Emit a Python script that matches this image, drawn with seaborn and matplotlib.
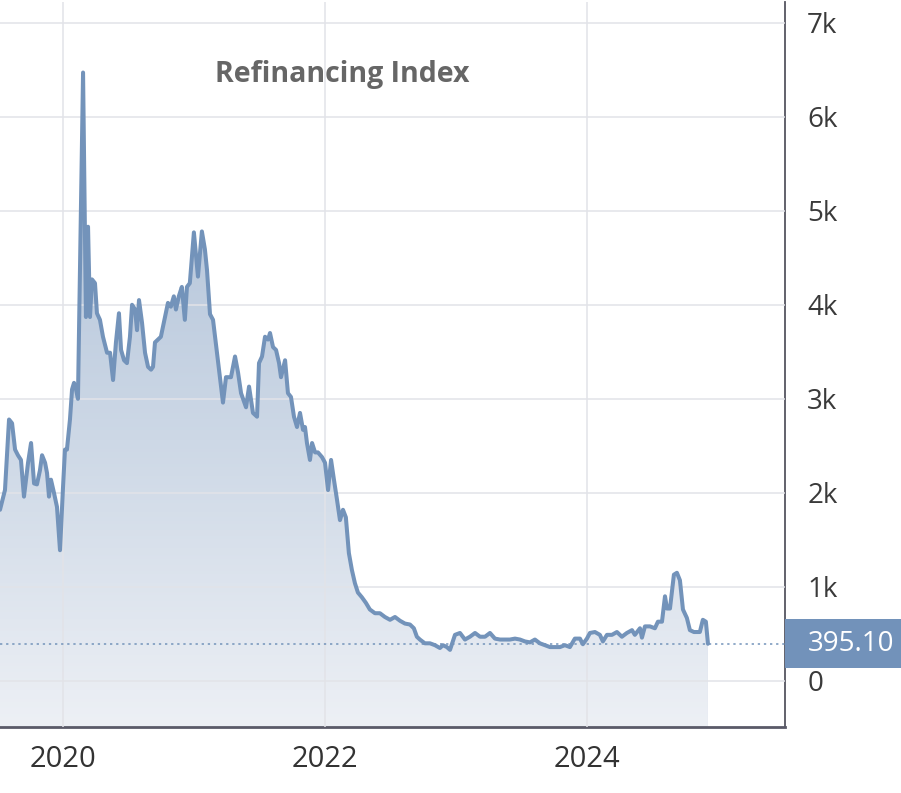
import numpy as np
import pandas as pd
import matplotlib
matplotlib.use("Agg")
import matplotlib.pyplot as plt
import seaborn as sns
from matplotlib.colors import LinearSegmentedColormap
from matplotlib.patches import Rectangle
from matplotlib.transforms import blended_transform_factory

# ---------------- data ----------------
title = "Refinancing Index"
last_value_label = "395.10"
last_value = 395.1

dates = [
    2019.520, 2019.558, 2019.589, 2019.612, 2019.635, 2019.657, 2019.680, 2019.703,
    2019.734, 2019.757, 2019.780, 2019.802, 2019.825, 2019.841, 2019.864, 2019.879,
    2019.894, 2019.909, 2019.932, 2019.955, 2019.978, 2020.001, 2020.016, 2020.031,
    2020.054, 2020.070, 2020.085, 2020.100, 2020.115, 2020.154, 2020.176, 2020.192,
    2020.207, 2020.222, 2020.245, 2020.260, 2020.283, 2020.306, 2020.337, 2020.360,
    2020.383, 2020.405, 2020.428, 2020.444, 2020.467, 2020.489, 2020.512, 2020.528,
    2020.551, 2020.566, 2020.581, 2020.604, 2020.627, 2020.650, 2020.673, 2020.688,
    2020.703, 2020.725, 2020.748, 2020.779, 2020.802, 2020.824, 2020.847, 2020.863,
    2020.885, 2020.908, 2020.931, 2020.947, 2020.969, 2021.000, 2021.031, 2021.061,
    2021.084, 2021.100, 2021.123, 2021.146, 2021.176, 2021.199, 2021.222, 2021.245,
    2021.283, 2021.314, 2021.337, 2021.360, 2021.398, 2021.421, 2021.451, 2021.482,
    2021.497, 2021.520, 2021.543, 2021.566, 2021.581, 2021.604, 2021.627, 2021.650,
    2021.665, 2021.696, 2021.718, 2021.741, 2021.764, 2021.787, 2021.810, 2021.833,
    2021.848, 2021.863, 2021.886, 2021.902, 2021.925, 2021.947, 2021.978, 2022.001,
    2022.024, 2022.047, 2022.069, 2022.092, 2022.115, 2022.138, 2022.160, 2022.183,
    2022.206, 2022.229, 2022.252, 2022.282, 2022.313, 2022.343, 2022.382, 2022.420,
    2022.458, 2022.497, 2022.535, 2022.573, 2022.611, 2022.649, 2022.679, 2022.702,
    2022.725, 2022.763, 2022.802, 2022.840, 2022.878, 2022.901, 2022.931, 2022.955,
    2022.993, 2023.031, 2023.069, 2023.107, 2023.146, 2023.184, 2023.222, 2023.260,
    2023.298, 2023.337, 2023.375, 2023.412, 2023.451, 2023.489, 2023.527, 2023.565,
    2023.603, 2023.641, 2023.679, 2023.718, 2023.756, 2023.794, 2023.832, 2023.870,
    2023.908, 2023.947, 2023.969, 2024.000, 2024.023, 2024.061, 2024.099, 2024.122,
    2024.153, 2024.191, 2024.229, 2024.267, 2024.305, 2024.344, 2024.366, 2024.405,
    2024.420, 2024.443, 2024.481, 2024.519, 2024.542, 2024.573, 2024.596, 2024.611,
    2024.634, 2024.664, 2024.687, 2024.710, 2024.733, 2024.763, 2024.786, 2024.817,
    2024.847, 2024.862, 2024.885, 2024.908, 2024.924,
]
values = [
    1820, 2030, 2780, 2740, 2460, 2400, 2350, 1960,
    2320, 2530, 2100, 2090, 2240, 2400, 2320, 2210,
    1960, 2140, 2000, 1850, 1390, 2060, 2460, 2460,
    2780, 3100, 3170, 3100, 3000, 6470, 3870, 4830,
    3870, 4270, 4230, 3910, 3840, 3660, 3490, 3490,
    3200, 3600, 3910, 3520, 3410, 3380, 3660, 4000,
    3950, 3730, 4050, 3810, 3490, 3340, 3310, 3340,
    3600, 3630, 3660, 3870, 4020, 3980, 4090, 3950,
    4090, 4190, 3840, 4190, 4230, 4770, 4300, 4780,
    4590, 4370, 3900, 3840, 3490, 3230, 2960, 3230,
    3230, 3450, 3280, 3060, 2910, 3130, 2850, 2810,
    3380, 3450, 3660, 3630, 3700, 3550, 3520, 3380,
    3230, 3410, 3060, 3020, 2810, 2700, 2850, 2670,
    2700, 2530, 2350, 2530, 2430, 2430, 2380, 2320,
    2030, 2350, 2140, 1930, 1710, 1820, 1740, 1360,
    1180, 1040, 940, 890, 830, 760, 720, 720,
    680, 650, 680, 640, 610, 600, 560, 470,
    440, 400, 400, 380, 350, 380, 360, 330,
    490, 510, 440, 470, 510, 470, 470, 510,
    450, 440, 440, 440, 450, 440, 420, 410,
    440, 400, 380, 360, 360, 360, 380, 360,
    450, 450, 390, 450, 510, 520, 490, 420,
    490, 490, 520, 470, 510, 540, 490, 560,
    460, 580, 580, 560, 630, 630, 900, 770,
    770, 1130, 1150, 1070, 760, 670, 540, 520,
    520, 520, 650, 630, 395.1,
]
x_ticks = [2020, 2022, 2024]
x_tick_labels = ["2020", "2022", "2024"]
y_ticks = [0, 1000, 2000, 3000, 4000, 5000, 6000, 7000]
y_tick_labels = ["0", "1k", "2k", "3k", "4k", "5k", "6k", "7k"]

df = pd.DataFrame({"date": dates, "value": values})

# ---------------- style ----------------
sns.set_theme(style="white")
plt.rcParams["font.family"] = ["Open Sans", "DejaVu Sans"]

LINE = "#7393ba"
BOX = "#7292ba"
XMIN, XMAX = 2019.52, 2025.512
YMIN, YMAX = -490, 7220

fig = plt.figure(figsize=(9.01, 7.93), dpi=100)
ax = fig.add_axes([0.0, 66 / 793, 785 / 901, (727 - 2) / 793])

# gradient fill below the line
cmap = LinearSegmentedColormap.from_list("g", ["#edf0f5", "#cdd8e6", "#b2c3d9"])
grad = np.linspace(0, 1, 256).reshape(-1, 1)
im = ax.imshow(grad, extent=[XMIN, XMAX, YMIN, 5600], origin="lower",
               aspect="auto", cmap=cmap, zorder=1, interpolation="bicubic")
poly = ax.fill_between(df["date"], df["value"], YMIN, facecolor="#b2c3d9",
                       edgecolor="none", zorder=0.9)
im.set_clip_path(poly.get_paths()[0], transform=ax.transData)

sns.lineplot(data=df, x="date", y="value", ax=ax, color=LINE, linewidth=2.9,
             zorder=3, estimator=None, sort=False)

# dotted last-value line
ax.axhline(last_value, color=LINE, linestyle=(0, (1.5, 2.5)), linewidth=1.1, zorder=2.8)

ax.set_xlim(XMIN, XMAX)
ax.set_ylim(YMIN, YMAX)

# grid
ax.set_axisbelow(False)
ax.grid(True, color="#e2e3e8", linewidth=1.1, zorder=2.5)
ax.set_xticks(x_ticks)
ax.set_xticklabels(x_tick_labels)
ax.set_yticks(y_ticks)
ax.set_yticklabels(y_tick_labels)
ax.yaxis.tick_right()
ax.tick_params(axis="both", length=0)
ax.tick_params(axis="x", pad=13, labelsize=21, labelcolor="#333333")
ax.tick_params(axis="y", pad=16, labelsize=20, labelcolor="#3a3a3a")
for lab in ax.get_yticklabels():
    lab.set_horizontalalignment("left")
ax.set_xlabel("")
ax.set_ylabel("")

for s in ["left", "top"]:
    ax.spines[s].set_visible(False)
ax.spines["right"].set_color("#555560")
ax.spines["right"].set_linewidth(1.3)
ax.spines["bottom"].set_color("#5a5a68")
ax.spines["bottom"].set_linewidth(2.0)

# title inside plot
ax.text(0.4357, 0.900, title, transform=ax.transAxes, ha="center", va="center",
        fontsize=20.5, fontweight="bold", color="#666666")

# last value box on the right
tr = blended_transform_factory(fig.transFigure, ax.transData)
fig.patches.append(Rectangle((785 / 901, last_value - 262), 1 - 785 / 901, 524,
                             transform=tr, facecolor=BOX, edgecolor="none",
                             figure=fig, zorder=5))
fig.text(808 / 901, last_value, last_value_label, transform=tr, ha="left",
         va="center", fontsize=20, color="white", zorder=6)

fig.savefig("out.png", dpi=100)
